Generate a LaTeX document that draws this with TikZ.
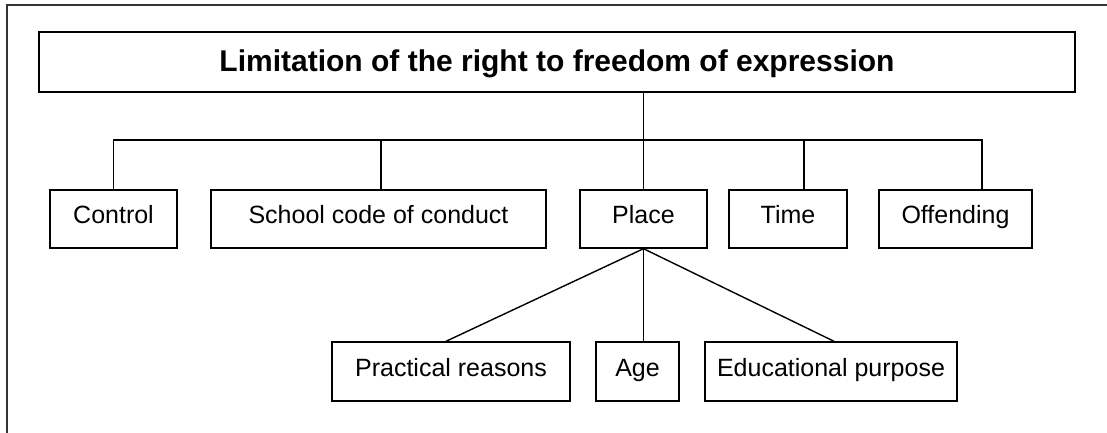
\documentclass[tikz,border=0pt]{standalone}
\usepackage{fontspec}
\setmainfont{Liberation Sans}
\tikzset{
  box/.style={draw, line width=1.4pt, inner sep=0pt, minimum height=58pt,
    text height=18pt, text depth=10pt, font=\fontsize{25}{30}\selectfont},
  link/.style={line width=1.4pt}
}
\begin{document}
\begin{tikzpicture}[x=1pt, y=-1pt]
      \useasboundingbox (0,0) rectangle (1107,433);
      \draw[line width=1.2pt, black!80] (7,433) -- (7,5) -- (1107,5); % open frame
      \node[box, minimum width=1036pt, minimum height=60pt, text height=21.5pt, text depth=3pt, font=\fontsize{30}{36}\selectfont\bfseries] (title) at (557,62) {Limitation of the right to freedom of expression};
      \node[box, minimum width=127pt] (ctrl) at (113.5,219) {Control};
      \node[box, minimum width=335pt] (code) at (378.5,219) {School code of conduct};
      \node[box, minimum width=127pt] (place) at (643.5,219) {Place};
      \node[box, minimum width=118pt] (time) at (788,219) {Time};
      \node[box, minimum width=153pt] (offend) at (955.5,219) {Offending};
      \node[box, minimum width=238pt, minimum height=59pt, text depth=8pt] (pract) at (451,371.5) {Practical reasons};
      \node[box, minimum width=83pt, minimum height=59pt, text depth=8pt] (age) at (637.5,371.5) {Age};
      \node[box, minimum width=252pt, minimum height=59pt, text depth=8pt] (edu) at (831,371.5) {Educational purpose};
      \coordinate (bus) at (0,140); % level of the bus line
      \coordinate (codetop) at ([xshift=2.5pt]code.north);
      \coordinate (timetop) at ([xshift=16pt]time.north);
      \coordinate (offtop) at ([xshift=26.5pt]offend.north);
      \draw[link] (title.south -| place) -- (place.north);
      \draw[link] (ctrl.north) -- (ctrl.north |- bus) -- (offtop |- bus) -- (offtop);
      \draw[link] (codetop) -- (codetop |- bus);
      \draw[link] (timetop) -- (timetop |- bus);
      \draw[link] (place.south) -- ([xshift=-5pt]pract.north);
      \draw[link] (place.south) -- (age.north -| place.south);
      \draw[link] (place.south) -- ([xshift=3pt]edu.north);
  \end{tikzpicture}
\end{document}
